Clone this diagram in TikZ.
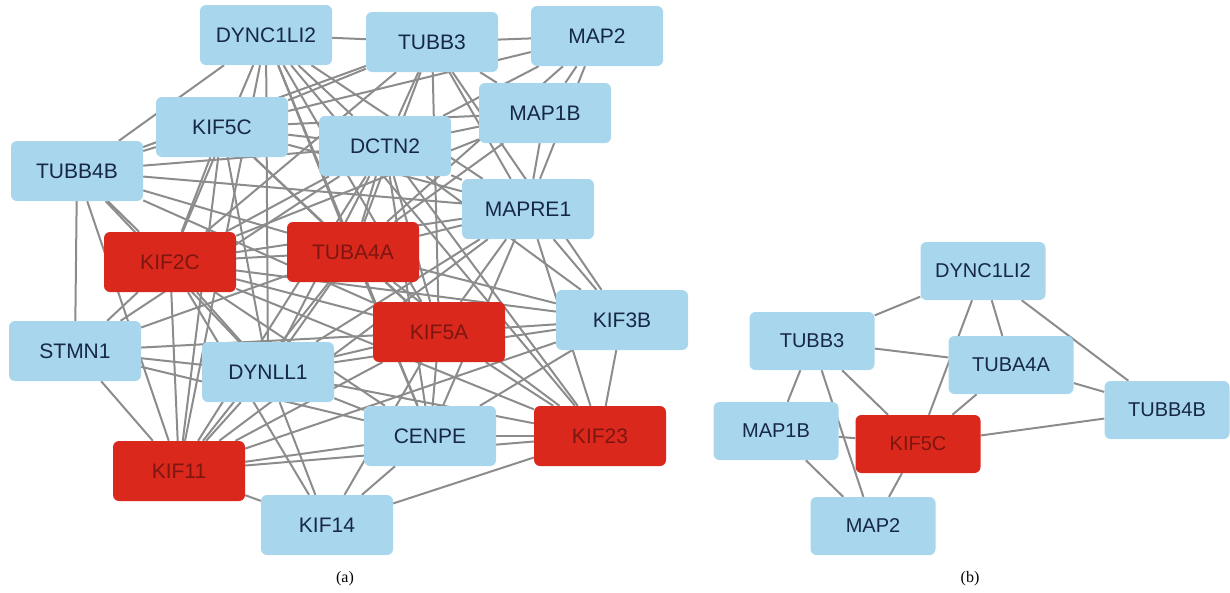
\documentclass[tikz,border=0pt]{standalone}
\usepackage{fontspec}
\setmainfont{Liberation Sans}
\usetikzlibrary{backgrounds}
\definecolor{nblue}{RGB}{168,214,236}
\definecolor{nred}{RGB}{219,40,28}
\definecolor{ntext}{RGB}{22,40,70}
\definecolor{rtext}{RGB}{125,22,16}
\definecolor{egray}{RGB}{140,140,140}
\tikzset{
  gbox/.style={rectangle, rounded corners=6pt, fill=nblue, text=ntext, minimum width=132pt, minimum height=60pt, inner sep=0pt, font=\fontsize{21}{25}\selectfont},
  rbox/.style={gbox, fill=nred, text=rtext},
  sbox/.style={minimum width=125pt, minimum height=58pt, font=\fontsize{20}{24}\selectfont},
  edge/.style={draw=egray, line width=2pt},
  capstyle/.style={font=\fontspec{Liberation Serif}\fontsize{16}{18}\selectfont, text=black}
}
\begin{document}
\begin{tikzpicture}[x=1pt,y=-1pt]
\useasboundingbox (0,0) rectangle (1230,592);
% left network
\node[gbox] (d) at (266,35) {DYNC1LI2};
\node[gbox] (t3) at (432,42) {TUBB3};
\node[gbox] (m2) at (597,36) {MAP2};
\node[gbox] (k5c) at (222,127) {KIF5C};
\node[gbox] (dc) at (385,146) {DCTN2};
\node[gbox] (m1b) at (545,113) {MAP1B};
\node[gbox] (t4b) at (77,171) {TUBB4B};
\node[gbox] (mr) at (528,209) {MAPRE1};
\node[rbox] (k2c) at (170,262) {KIF2C};
\node[rbox] (ta) at (353,252) {TUBA4A};
\node[rbox] (k5a) at (439,332) {KIF5A};
\node[gbox] (k3b) at (622,320) {KIF3B};
\node[gbox] (st) at (75,351) {STMN1};
\node[gbox] (dy) at (268,372) {DYNLL1};
\node[gbox] (ce) at (430,436) {CENPE};
\node[rbox] (k23) at (600,436) {KIF23};
\node[rbox] (k11) at (179,471) {KIF11};
\node[gbox] (k14) at (327,525) {KIF14};
\begin{scope}[on background layer]
\foreach \a/\b in {d/t3,d/t4b,d/k2c,d/k11,d/dy,d/ta,d/dc,d/k5a,d/mr,d/ce,d/k23,
  t3/m2,t3/k5c,t3/dc,t3/ta,t3/k2c,t3/m1b,t3/mr,t3/k5a,t3/t4b,t3/k3b,
  m2/m1b,m2/mr,m2/k5c,m2/dc,m2/ta,
  k5c/t4b,k5c/dc,k5c/m1b,k5c/mr,k5c/ta,k5c/k2c,k5c/k11,k5c/k5a,k5c/dy,
  dc/m1b,dc/mr,dc/k2c,dc/ta,dc/k5a,dc/k3b,dc/k11,dc/dy,dc/st,dc/ce,dc/k23,dc/t4b,
  m1b/mr,m1b/ta,m1b/k2c,
  t4b/st,t4b/k2c,t4b/ta,t4b/k5a,t4b/mr,t4b/k11,t4b/dy,
  mr/k3b,mr/k23,mr/k5a,mr/ce,mr/ta,mr/k2c,mr/dy,mr/k11,
  k2c/ta,k2c/k5a,k2c/k3b,k2c/dy,k2c/st,k2c/k11,k2c/ce,k2c/k23,k2c/k14,
  ta/k5a,ta/k3b,ta/st,ta/dy,ta/k11,ta/ce,ta/k23,
  k5a/k3b,k5a/k23,k5a/ce,k5a/dy,k5a/st,k5a/k11,k5a/k14,
  k3b/k23,k3b/ce,k3b/dy,k3b/k11,
  st/k11,st/dy,st/ce,
  dy/k11,dy/ce,dy/k23,dy/k14,
  ce/k23,ce/k11,ce/k14,
  k23/k11,k23/k14,k11/k14}
  \draw[edge] (\a) -- (\b);
\end{scope}
% right network
\node[gbox,sbox] (rd) at (983,271) {DYNC1LI2};
\node[gbox,sbox] (rt3) at (812,341) {TUBB3};
\node[gbox,sbox] (rta) at (1011,365) {TUBA4A};
\node[gbox,sbox] (rt4b) at (1167,410) {TUBB4B};
\node[gbox,sbox] (rm1b) at (776,431) {MAP1B};
\node[rbox,sbox] (rk5c) at (918,444) {KIF5C};
\node[gbox,sbox] (rm2) at (873,526) {MAP2};
\begin{scope}[on background layer]
\foreach \a/\b in {rd/rt3,rd/rk5c,rd/rta,rd/rt4b,rt3/rta,rta/rt4b,rta/rk5c,rk5c/rt4b,
  rt3/rm1b,rt3/rm2,rt3/rk5c,rm1b/rk5c,rm1b/rm2,rk5c/rm2}
  \draw[edge] (\a) -- (\b);
\end{scope}
\node[capstyle] (capa) at (345,579) {(a)};
\node[capstyle] (capb) at (970,579) {(b)};
\end{tikzpicture}
\end{document}
